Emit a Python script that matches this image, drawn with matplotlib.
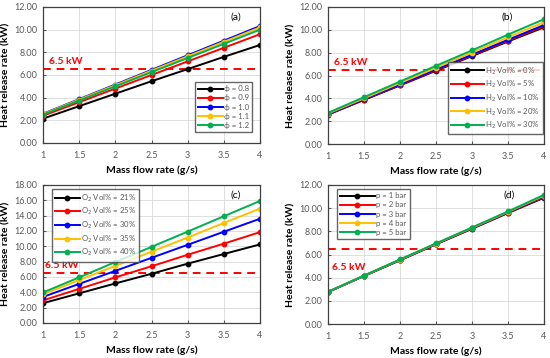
import matplotlib.pyplot as plt
import numpy as np

plt.rcParams['font.family'] = ['Lato', 'DejaVu Sans']

# Mass flow rate (g/s)
mdot = [1, 1.5, 2, 2.5, 3, 3.5, 4]

# (a) equivalence ratio
phi_labels = ["\u03d5 = 0.8", "\u03d5 = 0.9", "\u03d5 = 1.0", "\u03d5 = 1.1", "\u03d5 = 1.2"]
phi_08 = [2.15, 3.25, 4.35, 5.45, 6.52, 7.6, 8.65]
phi_09 = [2.40, 3.60, 4.80, 6.00, 7.20, 8.40, 9.60]
phi_10 = [2.58, 3.87, 5.16, 6.45, 7.74, 9.03, 10.32]
phi_11 = [2.55, 3.83, 5.10, 6.38, 7.65, 8.93, 10.20]
phi_12 = [2.50, 3.75, 5.00, 6.25, 7.50, 8.75, 10.00]

# (b) hydrogen content
h2_labels = ["H$_2$ Vol% = 0%", "H$_2$ Vol% = 5%", "H$_2$ Vol% = 10%", "H$_2$ Vol% = 20%", "H$_2$ Vol% = 30%"]
h2_00 = [2.57, 3.86, 5.13, 6.42, 7.70, 8.98, 10.22]
h2_05 = [2.59, 3.89, 5.17, 6.47, 7.76, 9.05, 10.32]
h2_10 = [2.61, 3.92, 5.22, 6.53, 7.83, 9.13, 10.42]
h2_20 = [2.67, 4.00, 5.34, 6.68, 8.01, 9.35, 10.66]
h2_30 = [2.73, 4.10, 5.47, 6.85, 8.20, 9.58, 10.93]

# (c) oxygen content
o2_labels = ["O$_2$ Vol% = 21%", "O$_2$ Vol% = 25%", "O$_2$ Vol% = 30%", "O$_2$ Vol% = 35%", "O$_2$ Vol% = 40%"]
o2_21 = [2.58, 3.87, 5.16, 6.42, 7.74, 9.00, 10.25]
o2_25 = [2.95, 4.45, 5.95, 7.40, 8.90, 10.35, 11.85]
o2_30 = [3.40, 5.10, 6.80, 8.50, 10.20, 11.90, 13.60]
o2_35 = [3.75, 5.60, 7.45, 9.30, 11.15, 13.05, 14.92]
o2_40 = [3.98, 5.95, 7.95, 9.93, 11.92, 13.92, 15.92]

# (d) pressure
p_labels = ["p = 1 bar", "p = 2 bar", "p = 3 bar", "p = 4 bar", "p = 5 bar"]
p_1 = [2.76, 4.14, 5.50, 6.88, 8.22, 9.58, 10.90]
p_2 = [2.77, 4.15, 5.52, 6.90, 8.25, 9.62, 10.96]
p_3 = [2.77, 4.16, 5.54, 6.92, 8.28, 9.65, 11.02]
p_4 = [2.78, 4.17, 5.55, 6.94, 8.30, 9.68, 11.08]
p_5 = [2.78, 4.18, 5.57, 6.96, 8.33, 9.72, 11.15]

colors = ["black", "#FF0000", "#0000FF", "#FFC000", "#00B050"]

fig = plt.figure(figsize=(5.5, 3.58), dpi=100)

# axes boxes in pixels: left, top, right, bottom
boxes = [(43, 7, 260, 143), (328, 7, 544, 144), (43, 185, 260, 323), (328, 185, 544, 324)]
W, H = 550.0, 358.0

# tag, series, labels, ymax, legend loc, 6.5 kW label pos, tag pos, legend anchor, handle length
panels = [
    ("(a)", [phi_08, phi_09, phi_10, phi_11, phi_12], phi_labels, 12, "lower right", (1.08, 6.75), (0.89, 0.96), (0.965, 0.08), 3.2),
    ("(b)", [h2_00, h2_05, h2_10, h2_20, h2_30], h2_labels, 12, "lower right", (1.08, 6.75), (0.83, 0.96), (0.995, 0.07), 4.2),
    ("(c)", [o2_21, o2_25, o2_30, o2_35, o2_40], o2_labels, 18, "upper left", (1.03, 6.85), (0.89, 0.96), (0.04, 0.97), 3.2),
    ("(d)", [p_1, p_2, p_3, p_4, p_5], p_labels, 12, "upper left", (1.05, 5.3), (0.84, 0.96), (0.04, 0.97), 4.5),
]

for (l, t, r, b), (tag, series, labels, ymax, loc, kwpos, tagpos, legpos, hl) in zip(boxes, panels):
    ax = fig.add_axes([l / W, 1 - b / H, (r - l) / W, (b - t) / H])
    for s, c, lab in zip(series, colors, labels):
        ax.plot(mdot, s, '-o', color=c, lw=1.4, ms=3.2, label=lab)
    ax.axhline(6.5, color="#FF0000", ls=(0, (4, 3)), lw=1.4, zorder=1)
    ax.text(kwpos[0], kwpos[1], "6.5 kW", color="#FF0000", fontsize=7.5, fontweight="bold",
            va="bottom" if tag != "(d)" else "top")
    ax.text(tagpos[0], tagpos[1], tag, transform=ax.transAxes, fontsize=7.5,
            ha="center", va="top")
    ax.set_xlim(1, 4)
    ax.set_ylim(0, ymax)
    ax.set_xticks(mdot)
    ax.set_xticklabels(["1", "1.5", "2", "2.5", "3", "3.5", "4"])
    ax.set_yticks(np.arange(0, ymax + 0.1, 2))
    ax.set_yticklabels(["%.2f" % v for v in np.arange(0, ymax + 0.1, 2)])
    ax.tick_params(labelsize=6.5, colors="#595959", direction="in", length=2.5, pad=4)
    ax.tick_params(axis="x", pad=6)
    ax.grid(True, color="#D9D9D9", lw=0.6)
    ax.set_axisbelow(True)
    for sp in ax.spines.values():
        sp.set_color("#404040")
        sp.set_linewidth(0.9)
    ax.set_xlabel("Mass flow rate (g/s)", fontsize=7.5, fontweight="bold", labelpad=4)
    ax.set_ylabel("Heat release rate (kW)", fontsize=7.5, fontweight="bold", labelpad=3)
    leg = ax.legend(loc=loc, fontsize=5.6, frameon=True, fancybox=False, handlelength=hl,
                    labelspacing=0.28, borderpad=0.4, handletextpad=0.2, borderaxespad=0,
                    bbox_to_anchor=legpos)
    leg.get_frame().set_edgecolor("#404040")
    leg.get_frame().set_linewidth(1.0)
    for txt in leg.get_texts():
        txt.set_color("#595959")

fig.savefig("out.png", dpi=100)
